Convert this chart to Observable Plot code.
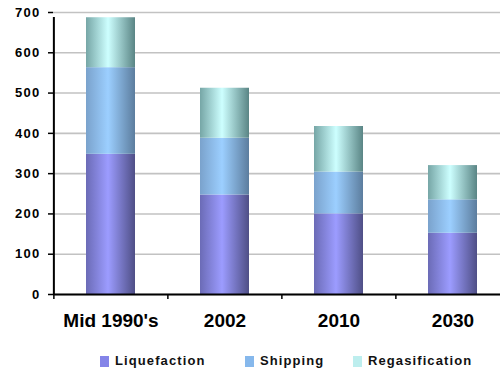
<!DOCTYPE html>
<html>
<head>
<meta charset="utf-8">
<script src="https://cdn.jsdelivr.net/npm/d3@7"></script>
<script src="https://cdn.jsdelivr.net/npm/@observablehq/plot@0.6"></script>
<style>
  html, body { margin: 0; padding: 0; background: #fff; overflow: hidden; width: 500px; height: 375px; }
  #chart { position: relative; width: 500px; height: 375px; font-family: "Liberation Sans", Arial, sans-serif; }
  #chart svg { font-family: "Liberation Sans", Arial, sans-serif; }
  #chart svg g[aria-label="y-axis tick label"] text { letter-spacing: 1.3px; }
  .legend { position: absolute; top: 354px; left: 0; width: 500px; height: 16px; }
  .legend .item { position: absolute; top: 0; display: flex; align-items: center; font-weight: bold; font-size: 13px; letter-spacing: 1.1px; color: #111; line-height: 14px; }
  .legend .sw { width: 9px; height: 11px; margin-right: 6px; }
</style>
</head>
<body>
<div id="chart"></div>
<script>
// LNG cost chain by stage, stacked per period
const categories = ["Mid 1990's", "2002", "2010", "2030"];
const seriesNames = ["Liquefaction", "Shipping", "Regasification"];
const liquefaction = [348, 247, 200, 152];
const shipping = [215, 141, 104, 83];
const regasification = [124, 124, 113, 85];
const seriesValues = [liquefaction, shipping, regasification];
const yTicks = [0, 100, 200, 300, 400, 500, 600, 700];

// Shaded (cylinder-like) fills: left edge, highlight, right edge; flat swatch for the legend
const shades = [
  {id: "g-liq",  left: "#6b6bb6", mid: "#9c9cff", right: "#4f4f86", swatch: "#8484e8"},
  {id: "g-ship", left: "#7aa2cc", mid: "#9ccfff", right: "#5c7d9e", swatch: "#86b8ec"},
  {id: "g-reg",  left: "#76a6a6", mid: "#cdffff", right: "#5a8585", swatch: "#bdeeee"}
];

const rows = [];
seriesNames.forEach((s, si) => {
  categories.forEach((c, ci) => rows.push({category: c, series: s, value: seriesValues[si][ci]}));
});

const W = 500, H = 340;
const mLeft = 53, mRight = -10, mTop = 12, mBottom = 46;
const step = (W - mRight - mLeft) / categories.length;

const plot = Plot.plot({
  width: W,
  height: H,
  marginLeft: mLeft,
  marginRight: mRight,
  marginTop: mTop,
  marginBottom: mBottom,
  style: {color: "#000", background: "#fff", overflow: "hidden"},
  x: {domain: categories, paddingInner: 0.57, paddingOuter: 0.285, axis: null},
  y: {domain: [0, 700], axis: null},
  color: {domain: seriesNames, range: shades.map(d => `url(#${d.id})`)},
  marks: [
    Plot.gridY(yTicks, {stroke: "#c2c2c2", strokeOpacity: 1, strokeWidth: 1.6}),
    Plot.barY(rows, {x: "category", y: "value", fill: "series"}),
    Plot.ruleY([0], {stroke: "#000", strokeWidth: 2}),
    Plot.ruleX([categories[0]], {x: d => d, dx: -step / 2, y1: 0, y2: 700, stroke: "#000", strokeWidth: 2, insetBottom: -5}),
    Plot.ruleX(categories, {x: d => d, dx: -step / 2, y1: 0, y2: 0, stroke: "#000", strokeWidth: 1.5, insetBottom: -5}),
    Plot.axisY(yTicks, {tickSize: 5, tickPadding: 8, fontSize: 13, fontWeight: "bold", label: null, strokeWidth: 1.5}),
    Plot.axisX({tickSize: 0, tickPadding: 19, fontSize: 19, fontWeight: "bold", label: null})
  ]
});

// Gradient definitions referenced by the bar fills
const defs = d3.select(plot).insert("defs", ":first-child");
shades.forEach(s => {
  const g = defs.append("linearGradient").attr("id", s.id)
    .attr("x1", "0").attr("x2", "1").attr("y1", "0").attr("y2", "0");
  g.append("stop").attr("offset", "0").attr("stop-color", s.left);
  g.append("stop").attr("offset", "0.45").attr("stop-color", s.mid);
  g.append("stop").attr("offset", "1").attr("stop-color", s.right);
});

const chart = document.getElementById("chart");
chart.appendChild(plot);

// Legend below the chart
const legend = d3.select(chart).append("div").attr("class", "legend");
const legendLeft = [100, 245, 353];
seriesNames.forEach((name, i) => {
  const item = legend.append("div").attr("class", "item").style("left", legendLeft[i] + "px");
  item.append("span").attr("class", "sw").style("background", shades[i].swatch);
  item.append("span").text(name);
});
</script>
</body>
</html>
